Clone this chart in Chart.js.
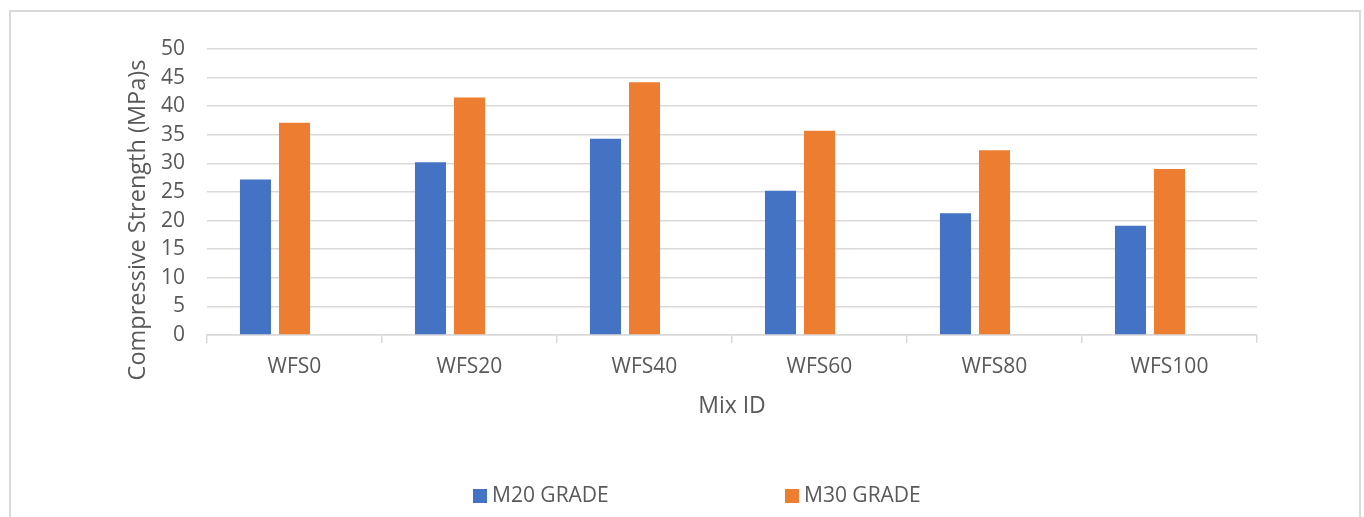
<!DOCTYPE html>
<html>
<head>
<meta charset="utf-8">
<script src="https://cdn.jsdelivr.net/npm/chart.js"></script>
<style>
  html, body { margin: 0; padding: 0; background: #fff; }
  body { width: 1364px; height: 517px; position: relative; overflow: hidden; font-family: "Open Sans", sans-serif; }
  #frame { position: absolute; left: 9px; top: 10px; width: 1348px; height: 540px; border: 2px solid #d9d9d9; }
  #wrap { position: absolute; left: 0; top: 0; width: 1364px; height: 517px; }
  #legend { position: absolute; top: 481px; left: 0; width: 1364px; height: 26px; }
  .item { position: absolute; top: 0; font-size: 21px; color: #595959; line-height: 26px; white-space: nowrap; }
  .item i { display: inline-block; width: 14px; height: 14px; margin-right: 5px; vertical-align: -1px; }
</style>
</head>
<body>
<div id="frame"></div>
<div id="wrap"><canvas id="strengthChart" width="1364" height="517"></canvas></div>
<div id="legend"></div>

<script>
// data
const mixIds = ['WFS0', 'WFS20', 'WFS40', 'WFS60', 'WFS80', 'WFS100'];
const m20Grade = [27.2, 30.2, 34.3, 25.2, 21.3, 19.1];
const m30Grade = [37.1, 41.5, 44.2, 35.7, 32.3, 29.0];
const seriesNames = ['M20 GRADE', 'M30 GRADE'];
const seriesColors = ['#4472C4', '#ED7D31'];
const yTitle = 'Compressive Strength (MPa)s';

const textColor = '#595959';
const gridColor = '#d9d9d9';

// legend below the chart
const legend = document.getElementById('legend');
const legendLeft = [473, 785];
seriesNames.forEach((name, i) => {
  const item = document.createElement('div');
  item.className = 'item';
  item.style.left = legendLeft[i] + 'px';
  item.innerHTML = '<i style="background:' + seriesColors[i] + '"></i>' + name;
  legend.appendChild(item);
});

// y title sits a bit lower than the plot centre in the original, so draw it by hand
const yTitlePlugin = {
  id: 'yTitle',
  afterDraw(chart) {
    const c = chart.ctx;
    c.save();
    c.translate(138, 220);
    c.rotate(-Math.PI / 2);
    c.font = '23.5px "Open Sans"';
    c.fillStyle = textColor;
    c.textAlign = 'center';
    c.textBaseline = 'middle';
    c.fillText(yTitle, 0, 0);
    c.restore();
  }
};

// plotting graph
const ctx = document.getElementById('strengthChart').getContext('2d');
new Chart(ctx, {
  type: 'bar',
  data: {
    labels: mixIds,
    datasets: [
      { label: seriesNames[0], data: m20Grade, backgroundColor: seriesColors[0] },
      { label: seriesNames[1], data: m30Grade, backgroundColor: seriesColors[1] },
      // empty third series, keeps the bar pairs to the left like the original
      { label: '', data: mixIds.map(() => null), backgroundColor: 'rgba(0,0,0,0)' }
    ]
  },
  plugins: [yTitlePlugin],
  options: {
    responsive: false,
    animation: false,
    categoryPercentage: 0.669,
    barPercentage: 0.795,
    layout: { padding: { left: 125, right: 107, top: 49, bottom: 97 } },
    plugins: {
      legend: { display: false },
      tooltip: { enabled: false }
    },
    scales: {
      x: {
        grid: { offset: true, drawOnChartArea: false, drawTicks: true, tickLength: 8, color: gridColor, lineWidth: 1.5 },
        border: { color: gridColor, width: 1.5 },
        ticks: { color: textColor, font: { family: 'Open Sans', size: 21 }, padding: 11 },
        title: { display: true, text: 'Mix ID', color: textColor, font: { family: 'Open Sans', size: 23 }, padding: 0 },
        afterFit: (scale) => { scale.height = 85; }
      },
      y: {
        min: 0,
        max: 50,
        grid: { drawTicks: false, color: gridColor, lineWidth: 1.5 },
        border: { display: false },
        ticks: { stepSize: 5, color: textColor, font: { family: 'Open Sans', size: 21 }, padding: 22 },
        afterFit: (scale) => { scale.width = 82; }
      }
    }
  }
});
</script>
</body>
</html>
